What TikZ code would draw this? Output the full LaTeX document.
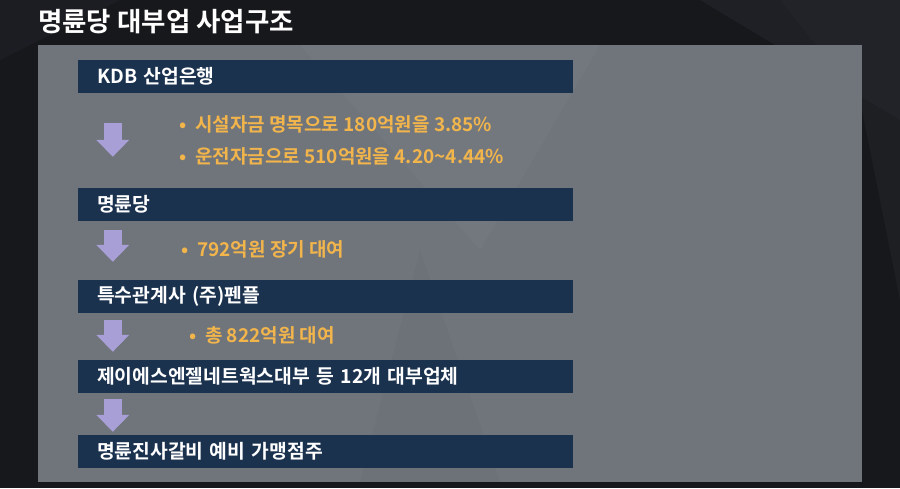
\documentclass[tikz,border=0pt]{standalone}
\usepackage{fontspec}
\setmainfont{Noto Sans CJK KR}[BoldFont={Noto Sans CJK KR Bold}]
\usetikzlibrary{arrows.meta,calc}
\definecolor{bgdark}{HTML}{16181C}
\definecolor{bgstreak}{HTML}{24262B}
\definecolor{panelgray}{HTML}{70747B}
\definecolor{barnavy}{HTML}{1B324F}
\definecolor{arrowlav}{HTML}{A79FD6}
\definecolor{noteorange}{HTML}{F2B54C}
\tikzset{
  bar/.style={fill=barnavy, draw=none, minimum width=495pt, minimum height=33pt,
    text width=457pt, inner xsep=19pt, inner ysep=0pt, align=left,
    text=white, font=\bfseries\fontsize{19.3}{21}\selectfont},
  note/.style={anchor=west, inner sep=0pt, text=noteorange,
    font=\bfseries\fontsize{19}{21}\selectfont},
  titletext/.style={anchor=west, inner sep=0pt, text=white,
    font=\bfseries\fontsize{26.5}{28}\selectfont},
  bigarrow/.style={draw=arrowlav, line width=18pt, line cap=butt,
    -{Triangle[width=32pt,length=17pt]}},
}
\newcommand{\bul}{\makebox[16pt][l]{•}}
\begin{document}
\begin{tikzpicture}[x=1pt,y=-1pt]
\useasboundingbox (0,0) rectangle (900,488);
% background
\fill[bgdark] (0,0) rectangle (900,488);
\fill[bgstreak,opacity=0.6] (560,0) -- (900,0) -- (900,120) -- (700,0) -- cycle;
\fill[bgstreak,opacity=0.5] (780,0) -- (900,0) -- (900,300) -- (860,100) -- cycle;
\fill[bgstreak,opacity=0.4] (0,0) -- (120,0) -- (0,60) -- cycle;
% panel
\node[fill=panelgray, draw=none, minimum width=824pt, minimum height=437pt, inner sep=0pt, anchor=north west] (panel) at (38,45) {};
\fill[white,opacity=0.025] (300,45) -- (600,45) -- (480,250) -- cycle;
\fill[black,opacity=0.02] (420,250) -- (500,482) -- (360,482) -- cycle;
% title
\node[titletext] (title) at (38,22) {명륜당 대부업 사업구조};
% bars
\node[bar] (b1) at (325.5,76.5) {KDB 산업은행};
\node[bar] (b2) at (325.5,204.5) {명륜당};
\node[bar] (b3) at (325.5,296.5) {특수관계사 (주)펜플};
\node[bar] (b4) at (325.5,376.5) {제이에스엔젤네트웍스대부 등 12개 대부업체};
\node[bar] (b5) at (325.5,451.5) {명륜진사갈비 예비 가맹점주};
% arrows
\draw[bigarrow] ([xshift=35pt,yshift=-30pt]b1.south west) -- ([xshift=35pt,yshift=31pt]b2.north west);
\draw[bigarrow] ([xshift=35pt,yshift=-9pt]b2.south west) -- ([xshift=35pt,yshift=18pt]b3.north west);
\draw[bigarrow] ([xshift=35pt,yshift=-7pt]b3.south west) -- ([xshift=35pt,yshift=8pt]b4.north west);
\draw[bigarrow] ([xshift=35pt,yshift=-6pt]b4.south west) -- ([xshift=35pt,yshift=3pt]b5.north west);
% notes
\node[note] (n1) at (179,124) {\bul 시설자금 명목으로 180억원을 3.85\%};
\node[note] (n2) at (179,156) {\bul 운전자금으로 510억원을 4.20\textasciitilde4.44\%};
\node[note] (n3) at (181,249) {\bul 792억원 장기 대여};
\node[note] (n4) at (189,335) {\bul 총 822억원 대여};
\end{tikzpicture}
\end{document}
